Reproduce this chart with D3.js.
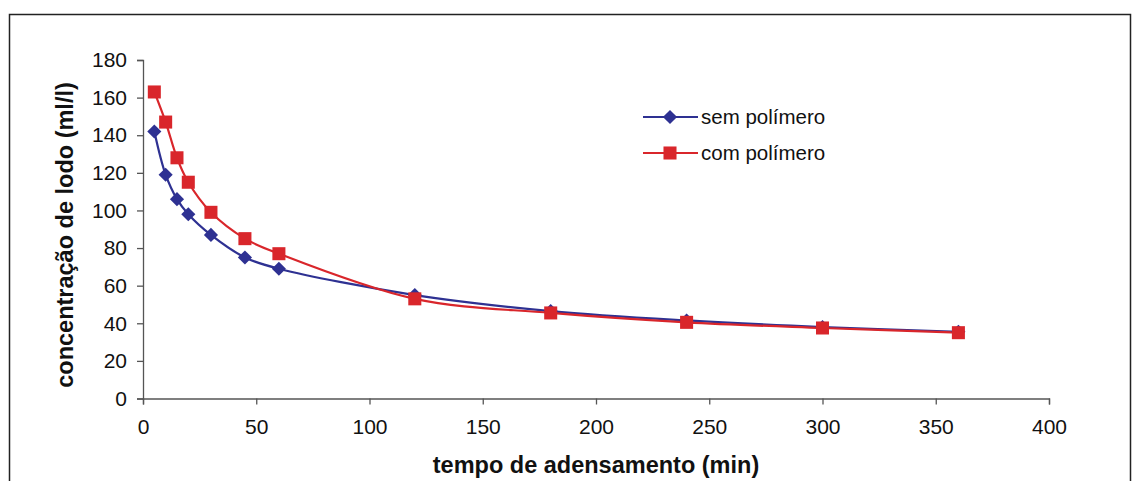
<!DOCTYPE html>
<html>
  <head>
    <meta charset="utf-8">
    <title>Adensamento</title>
    <script src="https://d3js.org/d3.v7.min.js"></script>
    <style>
    body { margin: 0; background: #fff; }
    .tick-label { font-family: "Liberation Sans", Arial, sans-serif; font-size: 21px; fill: #111; }
    .axis-title { font-family: "Liberation Sans", Arial, sans-serif; font-size: 23.5px; font-weight: bold; fill: #111; }
    .legend-text { font-family: "Liberation Sans", Arial, sans-serif; font-size: 20.5px; fill: #111; }
    </style>
  </head>
  <body>
    <script>
      // data
      const tempos = [5, 10, 15, 20, 30, 45, 60, 120, 180, 240, 300, 360];
      const semPolimero = [142, 119, 106, 98, 87, 75, 69, 55, 46.5, 41.5, 38, 35.5];
      const comPolimero = [163, 147, 128, 115, 99, 85, 77, 53, 45.5, 40.5, 37.5, 35];
      const xTicks = [0, 50, 100, 150, 200, 250, 300, 350, 400];
      const yTicks = [0, 20, 40, 60, 80, 100, 120, 140, 160, 180];

      const width = 1133, height = 481;
      const blue = "#2e3192", red = "#d9262b", axisColor = "#555";

      const svg = d3.select("body").append("svg")
          .attr("width", width)
          .attr("height", height);

      // outer frame
      svg.append("rect")
          .attr("x", 9.5).attr("y", 14.5)
          .attr("width", 1121).attr("height", 500)
          .attr("fill", "none")
          .attr("stroke", "#222")
          .attr("stroke-width", 1.5);

      const xScale = d3.scaleLinear().domain([0, 400]).range([143, 1049]);
      const yScale = d3.scaleLinear().domain([0, 180]).range([398.5, 60]);

      // axes
      const xAxis = d3.axisBottom(xScale).tickValues(xTicks).tickSize(6).tickPadding(15);
      const yAxis = d3.axisLeft(yScale).tickValues(yTicks).tickSize(6).tickPadding(10);

      const gx = svg.append("g")
          .attr("transform", "translate(0," + yScale(0) + ")")
          .call(xAxis);
      const gy = svg.append("g")
          .attr("transform", "translate(" + xScale(0) + ",0)")
          .call(yAxis);

      [gx, gy].forEach(function(g) {
        g.select(".domain").attr("stroke", axisColor).attr("stroke-width", 1.3);
        g.selectAll(".tick line").attr("stroke", axisColor).attr("stroke-width", 1.3);
        g.selectAll(".tick text").attr("class", "tick-label").attr("font-family", null).attr("font-size", null);
      });

      // axis titles
      svg.append("text")
          .attr("class", "axis-title")
          .attr("x", 596).attr("y", 473)
          .attr("text-anchor", "middle")
          .text("tempo de adensamento (min)");

      svg.append("text")
          .attr("class", "axis-title")
          .attr("transform", "translate(73,235) rotate(-90)")
          .attr("text-anchor", "middle")
          .text("concentração de lodo (ml/l)");

      // series (diamond = square turned 45 degrees, like the spreadsheet marker)
      const series = [
        { name: "sem polímero", values: semPolimero, color: blue, size: 100, rotate: 45 },
        { name: "com polímero", values: comPolimero, color: red, size: 170, rotate: 0 }
      ];

      const line = d3.line()
          .x(function(d) { return xScale(d[0]); })
          .y(function(d) { return yScale(d[1]); })
          .curve(d3.curveCatmullRom.alpha(0.5));

      series.forEach(function(s) {
        const pts = tempos.map(function(t, i) { return [t, s.values[i]]; });
        svg.append("path")
            .datum(pts)
            .attr("d", line)
            .attr("fill", "none")
            .attr("stroke", s.color)
            .attr("stroke-width", 2.2);
      });

      series.forEach(function(s) {
        const pts = tempos.map(function(t, i) { return [t, s.values[i]]; });
        svg.append("g").selectAll("path")
            .data(pts)
            .enter().append("path")
            .attr("transform", function(d) {
              return "translate(" + xScale(d[0]) + "," + yScale(d[1]) + ") rotate(" + s.rotate + ")";
            })
            .attr("d", d3.symbol().type(d3.symbolSquare).size(s.size))
            .attr("fill", s.color);
      });

      // legend
      series.forEach(function(s, i) {
        const ly = 117 + i * 36;
        svg.append("line")
            .attr("x1", 643).attr("x2", 698)
            .attr("y1", ly).attr("y2", ly)
            .attr("stroke", s.color)
            .attr("stroke-width", 2);
        svg.append("path")
            .attr("transform", "translate(670," + ly + ") rotate(" + s.rotate + ")")
            .attr("d", d3.symbol().type(d3.symbolSquare).size(s.size))
            .attr("fill", s.color);
        svg.append("text")
            .attr("class", "legend-text")
            .attr("x", 701).attr("y", ly + 7)
            .text(s.name);
      });
    </script>
  </body>
</html>
